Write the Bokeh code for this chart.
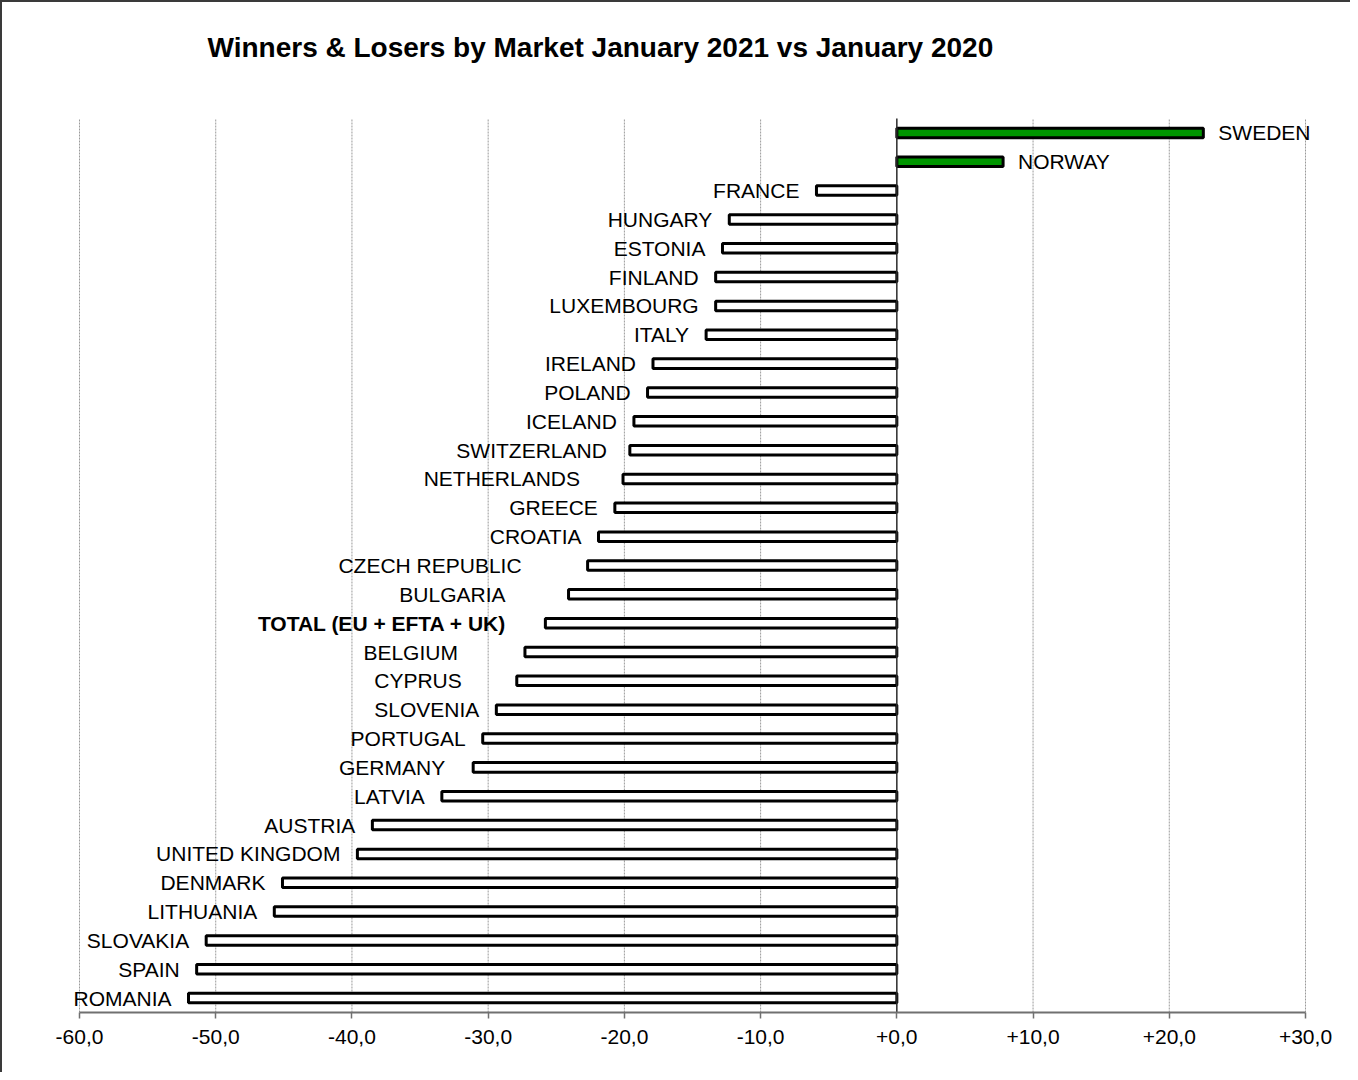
from bokeh.plotting import figure
from bokeh.models import (ColumnDataSource, Range1d, FixedTicker, CustomJSTickFormatter,
                          LabelSet, Label)
from bokeh.core.properties import value
from bokeh.embed import file_html
from bokeh.resources import INLINE

# ---- data (top to bottom) ----
markets = ["SWEDEN", "NORWAY", "FRANCE", "HUNGARY", "ESTONIA", "FINLAND", "LUXEMBOURG",
           "ITALY", "IRELAND", "POLAND", "ICELAND", "SWITZERLAND", "NETHERLANDS", "GREECE",
           "CROATIA", "CZECH REPUBLIC", "BULGARIA", "TOTAL (EU + EFTA + UK)", "BELGIUM",
           "CYPRUS", "SLOVENIA", "PORTUGAL", "GERMANY", "LATVIA", "AUSTRIA",
           "UNITED KINGDOM", "DENMARK", "LITHUANIA", "SLOVAKIA", "SPAIN", "ROMANIA"]
change_pct = [22.5, 7.8, -5.9, -12.3, -12.8, -13.3, -13.3,
              -14.0, -17.9, -18.3, -19.3, -19.6, -20.1, -20.7,
              -21.9, -22.7, -24.1, -25.8, -27.3,
              -27.9, -29.4, -30.4, -31.1, -33.4, -38.5,
              -39.6, -45.1, -45.7, -50.7, -51.4, -52.0]
total_label = "TOTAL (EU + EFTA + UK)"
x_ticks = [-60, -50, -40, -30, -20, -10, 0, 10, 20, 30]
chart_title = "Winners & Losers by Market January 2021 vs January 2020"

# ---- styling / layout ----
FONT = "Liberation Sans"
GREEN = "#009600"
BASE_GAP = 17  # px between bar end and its label
LABEL_NUDGE = {"SWITZERLAND": 6, "NETHERLANDS": 26, "CZECH REPUBLIC": 49, "BULGARIA": 46,
               total_label: 22, "BELGIUM": 50, "CYPRUS": 38, "GERMANY": 11}

W, H = 1350, 1072
CSS_BORDER = 2
# page-pixel geometry of the value area (-60..+30, rows)
AREA_L, AREA_R, AREA_T, AREA_B = 79, 1305, 118, 1012
# page-pixel geometry of the drawing frame (wider, so labels/title are not clipped)
FRAME_L, FRAME_R, FRAME_T = 38, 1345, 4

n = len(markets)
xmin, xmax = x_ticks[0], x_ticks[-1]
px_per_x = (AREA_R - AREA_L) / (xmax - xmin)
px_per_row = (AREA_B - AREA_T) / n
x_start = xmin - (AREA_L - FRAME_L) / px_per_x
x_end = xmax + (FRAME_R - AREA_R) / px_per_x
y_bottom = n - 0.5
y_top = -0.5 - (AREA_T - FRAME_T) / px_per_row

pos = list(range(n))
fills = [GREEN if v > 0 else "white" for v in change_pct]
aligns = ["left" if v > 0 else "right" for v in change_pct]
xoffs = [(BASE_GAP - 2 + LABEL_NUDGE.get(m, 0)) if v > 0 else -(BASE_GAP + LABEL_NUDGE.get(m, 0))
         for m, v in zip(markets, change_pct)]
fstyles = ["bold" if m == total_label else "normal" for m in markets]

src = ColumnDataSource(dict(pos=pos, change=change_pct, market=markets, fill=fills,
                            align=aligns, xoff=xoffs, fstyle=fstyles))

p = figure(width=W, height=H, x_range=Range1d(x_start, x_end), y_range=Range1d(y_bottom, y_top),
           output_backend="svg", toolbar_location=None,
           min_border_left=FRAME_L - CSS_BORDER, min_border_right=W + CSS_BORDER - FRAME_R,
           min_border_top=FRAME_T - CSS_BORDER, min_border_bottom=H + CSS_BORDER - AREA_B)
p.styles = {"border-top": "2px solid #3a3a3a", "border-left": "2px solid #3a3a3a"}
p.outline_line_color = None
p.background_fill_color = "white"
p.border_fill_color = "white"

p.yaxis.visible = False
p.xgrid.visible = False
p.ygrid.visible = False

p.xaxis.ticker = FixedTicker(ticks=x_ticks)
p.xaxis.bounds = (xmin, xmax)
p.xaxis.formatter = CustomJSTickFormatter(
    code="const s = Math.abs(tick).toFixed(1).replace('.', ','); return (tick < 0 ? '-' : '+') + s;")
p.xaxis.axis_line_color = "#707070"
p.xaxis.axis_line_width = 2
p.xaxis.major_tick_line_color = "#707070"
p.xaxis.major_tick_line_width = 1.5
p.xaxis.major_tick_out = 6
p.xaxis.major_tick_in = 0
p.xaxis.minor_tick_line_color = None
p.xaxis.major_label_standoff = 11
p.xaxis.major_label_text_font = FONT
p.xaxis.major_label_text_font_size = "21px"
p.xaxis.major_label_text_color = "black"

# vertical dotted gridlines spanning only the value area
grid_x = [t for t in x_ticks if t != 0]
p.segment(x0=grid_x, x1=grid_x, y0=[y_bottom] * len(grid_x), y1=[-0.5] * len(grid_x),
          line_color="#9a9a9a", line_dash="2 1", line_width=1)

p.hbar(y="pos", left=0, right="change", height=0.33, fill_color="fill",
       line_color="black", line_width=3, source=src)

# zero line
p.segment(x0=[0], x1=[0], y0=[y_bottom], y1=[-0.5], line_color="#2a2a2a", line_width=1.5)

labels = LabelSet(x="change", y="pos", text="market", source=src, x_offset="xoff",
                  text_align="align", text_baseline="middle", text_font=value(FONT),
                  text_font_size="21px", text_font_style="fstyle", text_color="black")
p.add_layout(labels)

p.add_layout(Label(x=xmin, y=-0.5, x_offset=207 - AREA_L, y_offset=AREA_T - 47,
                   text=chart_title, text_font=FONT, text_font_size="28px",
                   text_font_style="bold", text_baseline="alphabetic", text_align="left",
                   text_color="black"))

open("out.html", "w").write(file_html(p, INLINE))
